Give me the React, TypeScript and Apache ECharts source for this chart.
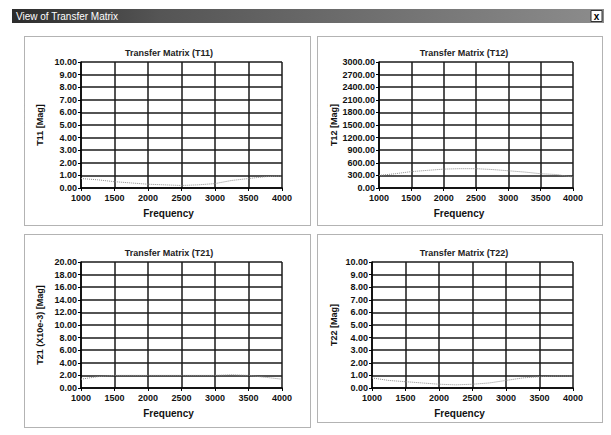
import React, { useEffect, useRef } from "react";
import * as echarts from "echarts";

// Data
const frequency = [1000, 1250, 1500, 1750, 2000, 2250, 2500, 2750, 3000, 3250, 3500, 3750, 4000];
const t11 = [0.75, 0.65, 0.5, 0.4, 0.3, 0.25, 0.2, 0.25, 0.35, 0.6, 0.75, 0.9, 0.95];
const t12 = [300, 340, 390, 420, 450, 460, 460, 440, 410, 380, 340, 320, 260];
const t21 = [1.4, 1.8, 2.0, 2.0, 2.0, 2.0, 2.0, 2.0, 2.0, 2.1, 2.0, 1.7, 1.4];
const t22 = [0.8, 0.6, 0.5, 0.4, 0.3, 0.25, 0.3, 0.4, 0.6, 0.8, 0.9, 0.95, 0.95];

const windowTitle = "View of Transfer Matrix";
const panelTitles = ["Transfer Matrix (T11)", "Transfer Matrix (T12)", "Transfer Matrix (T21)", "Transfer Matrix (T22)"];
const yNames = ["T11 [Mag]", "T12 [Mag]", "T21 (X10e-3) [Mag]", "T22 [Mag]"];
const xName = "Frequency";
const yMax = [10, 3000, 20, 10];
const yStep = [1, 300, 2, 1];
const xMin = 1000;
const xMax = 4000;
const xStep = 500;
const seriesData = [t11, t12, t21, t22];

const FONT = "Liberation Sans, Arial, sans-serif";

export default function App() {
  const ref = useRef<HTMLDivElement>(null);
  useEffect(() => {
    document.body.style.margin = "0";
    if (!ref.current) return;
    const chart = echarts.init(ref.current, null, { renderer: "svg" });

    const grids = [
      { left: 81, top: 62, width: 201, height: 126 },
      { left: 379, top: 62, width: 194, height: 126 },
      { left: 81, top: 262, width: 201, height: 126 },
      { left: 372, top: 262, width: 201, height: 126 },
    ];
    const titleCenters = [
      [164, 43],
      [459, 43],
      [164, 243],
      [459, 243],
    ];
    const yNameGaps = [37, 41, 37, 34];
    const xShift = [26, 34, 26, 26];

    const gridColor = "#1a1a1a";

    const option: any = {
      animation: false,
      backgroundColor: "#ffffff",
      title: panelTitles.map((t, i) => ({
        text: t,
        left: titleCenters[i][0],
        top: titleCenters[i][1],
        textAlign: "center",
        textStyle: { fontFamily: FONT, fontSize: 9, fontWeight: "bold", color: "#222" },
      })),
      grid: grids.map((g) => ({ ...g, containLabel: false })),
      xAxis: grids.map((_, i) => ({
        type: "value",
        gridIndex: i,
        min: xMin,
        max: xMax,
        interval: xStep,
        name: xName,
        nameLocation: "middle",
        nameGap: 20,
        nameTextStyle: {
          fontFamily: FONT,
          fontSize: 10,
          fontWeight: "bold",
          color: "#111",
          padding: [0, xShift[i], 0, 0],
        },
        axisLine: { show: true, lineStyle: { color: "#000", width: 1.5 } },
        axisTick: { show: true, length: 3, lineStyle: { color: "#000" } },
        axisLabel: {
          fontFamily: FONT,
          fontSize: 9,
          fontWeight: "bold",
          color: "#111",
          margin: 5,
          formatter: (v: number) => String(v),
        },
        splitLine: { show: true, lineStyle: { color: gridColor, width: 1.5 } },
      })),
      yAxis: grids.map((_, i) => ({
        type: "value",
        gridIndex: i,
        min: 0,
        max: yMax[i],
        interval: yStep[i],
        name: yNames[i],
        nameLocation: "middle",
        nameRotate: 90,
        nameGap: yNameGaps[i],
        nameTextStyle: { fontFamily: FONT, fontSize: 9, fontWeight: "bold", color: "#111" },
        axisLine: { show: true, lineStyle: { color: "#000", width: 1.5 } },
        axisTick: { show: true, length: 3, lineStyle: { color: "#000" } },
        axisLabel: {
          fontFamily: FONT,
          fontSize: 9,
          fontWeight: "bold",
          color: "#111",
          margin: 4,
          formatter: (v: number) => v.toFixed(2),
        },
        splitLine: { show: true, lineStyle: { color: gridColor, width: 1.5 } },
      })),
      series: seriesData.map((d, i) => ({
        type: "line",
        xAxisIndex: i,
        yAxisIndex: i,
        data: frequency.map((f, k) => [f, d[k]]),
        showSymbol: false,
        symbol: "none",
        lineStyle: { color: "#8a8a8a", width: 1, type: "dotted" },
        z: 3,
      })),
      graphic: [
        {
          type: "rect",
          shape: { x: 12, y: 9, width: 592, height: 14 },
          style: {
            fill: new echarts.graphic.LinearGradient(0, 0, 1, 0, [
              { offset: 0, color: "#2c2c2c" },
              { offset: 0.25, color: "#555555" },
              { offset: 1, color: "#8c8c8c" },
            ]),
          },
          silent: true,
        },
        {
          type: "text",
          x: 16,
          y: 16,
          style: {
            text: windowTitle,
            fill: "#ffffff",
            font: `10px ${FONT}`,
            verticalAlign: "middle",
          },
          silent: true,
        },
        {
          type: "rect",
          shape: { x: 591, y: 10.5, width: 11, height: 11 },
          style: { fill: "#ffffff", stroke: "#333", lineWidth: 1 },
          silent: true,
        },
        {
          type: "text",
          x: 596.5,
          y: 16,
          style: {
            text: "x",
            fill: "#000",
            font: `bold 10px ${FONT}`,
            align: "center",
            verticalAlign: "middle",
          },
          silent: true,
        },
        ...[
          [24, 36, 286, 189],
          [317, 36, 285, 189],
          [24, 234, 286, 193],
          [317, 234, 285, 188],
        ].map((r) => ({
          type: "rect",
          shape: { x: r[0] + 0.5, y: r[1] + 0.5, width: r[2], height: r[3] },
          style: { fill: "none", stroke: "#666", lineWidth: 1, lineDash: [1, 1] },
          silent: true,
        })),
      ],
    };
    chart.setOption(option);
    return () => chart.dispose();
  }, []);
  return <div ref={ref} style={{ width: 611, height: 435 }} />;
}
